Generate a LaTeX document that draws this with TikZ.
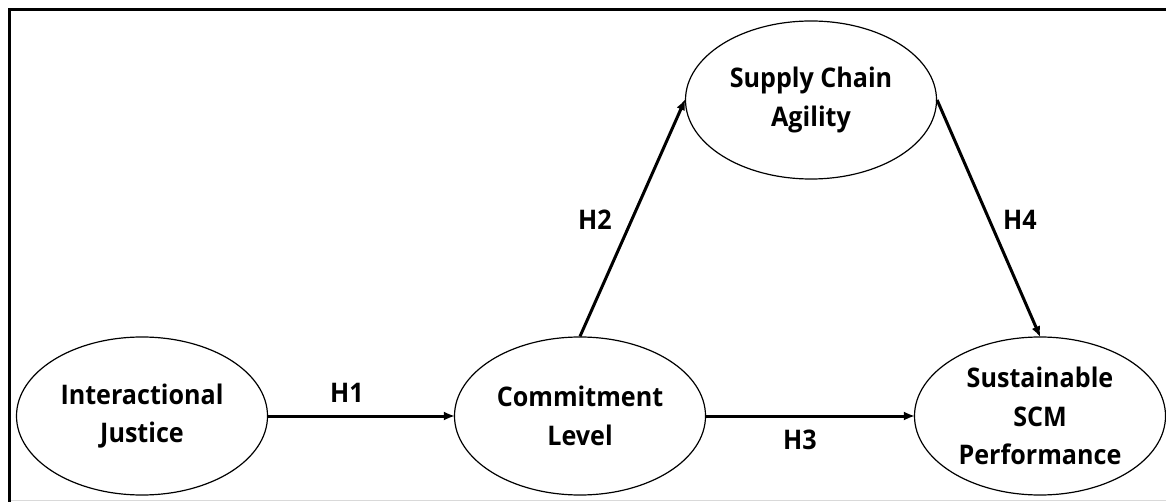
\documentclass[tikz,border=0pt]{standalone}
\usepackage{fontspec}
\setmainfont{Open Sans}[FakeStretch=0.93]
\usetikzlibrary{shapes.geometric,arrows.meta}
\begin{document}
\begin{tikzpicture}[x=1pt,y=-1pt,
  construct/.style={draw=black, line width=1.2pt, ellipse, minimum width=251pt, minimum height=158pt, inner sep=0pt, align=center, font=\fontsize{27}{38.5}\selectfont\bfseries},
  path/.style={line width=3pt, -{Latex[length=11pt,width=9pt]}, shorten >=-1pt},
  hyp/.style={font=\fontsize{27}{30}\selectfont\bfseries}]
\useasboundingbox (0,0) rectangle (1166,502);
\draw[line width=0.8pt, black!15] (9,500.5) -- (1166,500.5);
\draw[line width=3pt] (9,502) -- (9,10) -- (1166,10);
\node[construct] (ij) at (142,416) {Interactional\\Justice};
\node[construct] (cl) at (580,416) {Commitment\\Level};
\node[construct] (sca) at (811,100) {Supply Chain\\Agility};
\node[construct] (ssp) at (1040,416) {Sustainable\\SCM\\Performance};
\draw[path] (ij.east) -- (cl.west);
\draw[path] (cl.east) -- (ssp.west);
\draw[path] (cl.north) -- (sca.west);
\draw[path] (sca.east) -- (ssp.north);
\node[hyp] (h1) at (347,393) {H1};
\node[hyp] (h2) at (595,220) {H2};
\node[hyp] (h3) at (800,440) {H3};
\node[hyp] (h4) at (1020,220) {H4};
\end{tikzpicture}
\end{document}
